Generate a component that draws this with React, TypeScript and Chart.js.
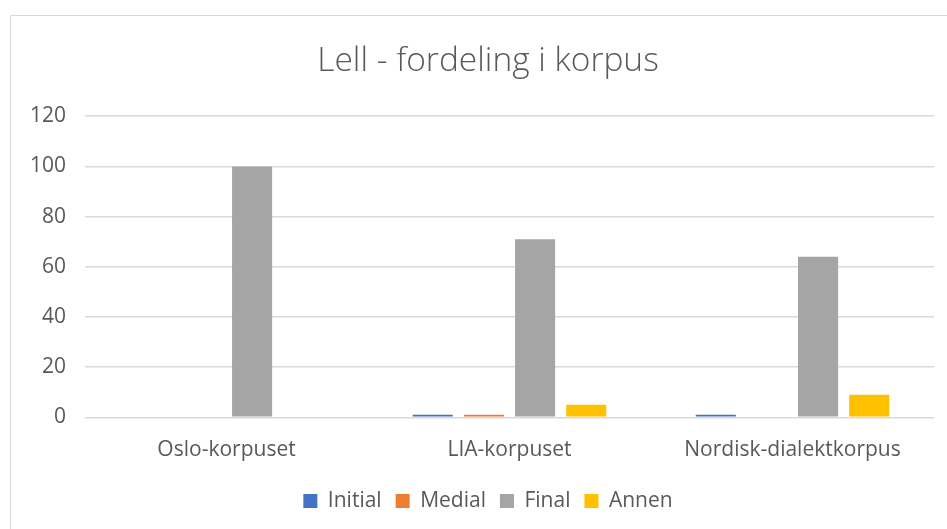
import React, { useEffect, useRef } from "react";
import { Chart, registerables } from "chart.js";

Chart.register(...registerables);

const categories = ["Oslo-korpuset", "LIA-korpuset", "Nordisk-dialektkorpus"];
const seriesNames = ["Initial", "Medial", "Final", "Annen"];
const initialValues = [0, 1, 1];
const medialValues = [0, 1, 0];
const finalValues = [100, 71, 64];
const annenValues = [0, 5, 9];
const seriesColors = ["#4472C4", "#ED7D31", "#A5A5A5", "#FFC000"];
const yTicks = [0, 20, 40, 60, 80, 100, 120];
const titleText = "Lell - fordeling i korpus";

const FONT = "'Open Sans', Lato, sans-serif";
const TEXT = "#595959";

export default function App() {
  const ref = useRef<HTMLCanvasElement | null>(null);

  useEffect(() => {
    if (!ref.current) return;
    const values = [initialValues, medialValues, finalValues, annenValues];
    const chart = new Chart(ref.current, {
      type: "bar",
      data: {
        labels: categories,
        datasets: seriesNames.map((name, i) => ({
          label: name,
          data: values[i],
          backgroundColor: seriesColors[i],
          borderWidth: 0,
          categoryPercentage: 0.723,
          barPercentage: 0.784,
        })),
      },
      options: {
        animation: false,
        responsive: false,
        maintainAspectRatio: false,
        layout: { padding: { left: 0, right: 0, top: 0, bottom: 8.5 } },
        plugins: {
          title: {
            display: true,
            text: titleText,
            color: TEXT,
            font: { family: FONT, size: 33.5, weight: 300 as any },
            padding: { top: 25, bottom: 35 },
          },
          legend: {
            position: "bottom",
            labels: {
              color: TEXT,
              font: { family: FONT, size: 21 },
              boxWidth: 14,
              boxHeight: 14,
              padding: 14,
            },
          },
          tooltip: { enabled: false },
        },
        scales: {
          x: {
            grid: { display: false },
            border: { display: false },
            ticks: { color: TEXT, font: { family: FONT, size: 21 }, padding: 12 },
            afterFit: (scale: any) => {
              scale.paddingLeft = 0;
              scale.paddingRight = 31;
              scale.height += 2;
            },
          },
          y: {
            min: 0,
            max: 120,
            afterBuildTicks: (axis: any) => {
              axis.ticks = yTicks.map((v) => ({ value: v }));
            },
            grid: { color: "#D9D9D9", lineWidth: 1.5, drawTicks: false },
            border: { display: false },
            ticks: { color: TEXT, font: { family: FONT, size: 21 }, padding: 19 },
          },
        },
      },
    });
    return () => chart.destroy();
  }, []);

  return (
    <div style={{ position: "fixed", left: 0, top: 0, width: 947, height: 529, background: "#fff", overflow: "hidden" }}>
      <div
        style={{
          position: "absolute",
          left: 10,
          top: 15,
          width: 954,
          height: 520,
          borderLeft: "1.5px solid #D9D9D9",
          borderTop: "1.5px solid #D9D9D9",
        }}
      >
        <canvas ref={ref} width={954} height={514} style={{ display: "block" }} />
      </div>
    </div>
  );
}
